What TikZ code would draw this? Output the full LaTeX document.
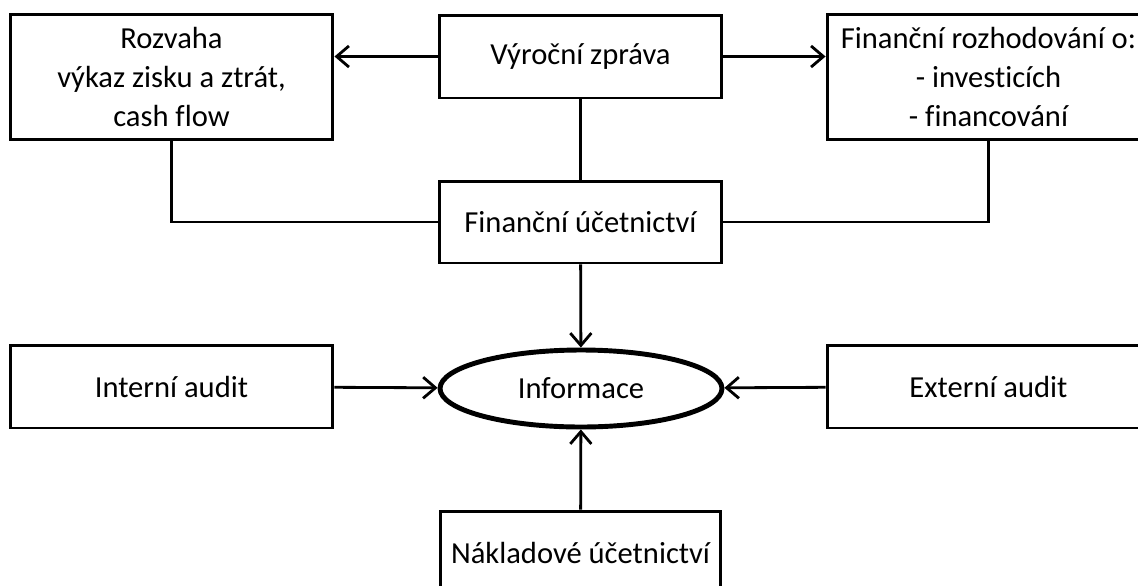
\documentclass[tikz,border=0pt]{standalone}
\usepackage{fontspec}
\setmainfont{Carlito}[Ligatures=CommonOff]
\usepackage{tikz}
\usetikzlibrary{arrows.meta,shapes.geometric}

\begin{document}
\begin{tikzpicture}[x=0.02cm,y=-0.02cm]
		\useasboundingbox (0,0) rectangle (1138,585);

		\begin{scope}[every node/.style={rectangle,draw,line width=1.7pt,inner sep=0pt,
					  align=center,font=\fontsize{17.4}{22.2}\selectfont}]
			\node[minimum width=6.46cm,minimum height=2.52cm] (roz) at (171.5,77) {Rozvaha\\výkaz zisku a ztrát,\\cash flow};
			\node[minimum width=5.66cm,minimum height=1.66cm] (vz) at (580.5,56.5) {Výroční zpráva};
			\node[minimum width=6.46cm,minimum height=2.52cm] (fr) at (988.5,77) {Finanční rozhodování o:\\- investicích\\- financování};

			\node[minimum width=5.66cm,minimum height=1.64cm] (fu) at (580.5,222) {Finanční účetnictví};

			\node[minimum width=6.46cm,minimum height=1.66cm] (ia) at (171.5,386.5) {Interní audit};
			\node[ellipse,line width=2.8pt,minimum width=5.64cm,minimum height=1.54cm] (info) at (581,388.5) {Informace};
			\node[minimum width=6.46cm,minimum height=1.66cm] (ea) at (988.5,386.5) {Externí audit};

			\node[minimum width=5.62cm,minimum height=1.66cm] (nu) at (580.5,552.5) {Nákladové účetnictví};
		\end{scope}

		\begin{scope}[>={Straight Barb[length=7pt,width=12pt]},
					  every path/.style={line width=1.6pt}]
			\path [->] (vz.west) edge (vz.west -| roz.east);
			\path [->] (vz.east) edge (vz.east -| fr.west);

			\draw (vz) -- (fu);
			\draw (roz) |- (fu);
			\draw (fr) |- (fu);

			\path [->] (fu) edge (info);
			\path [->] (ia) edge (info);
			\path [->] (ea) edge (info);
			\path [->] (nu) edge (info);
		\end{scope}
		\end{tikzpicture}
\end{document}
